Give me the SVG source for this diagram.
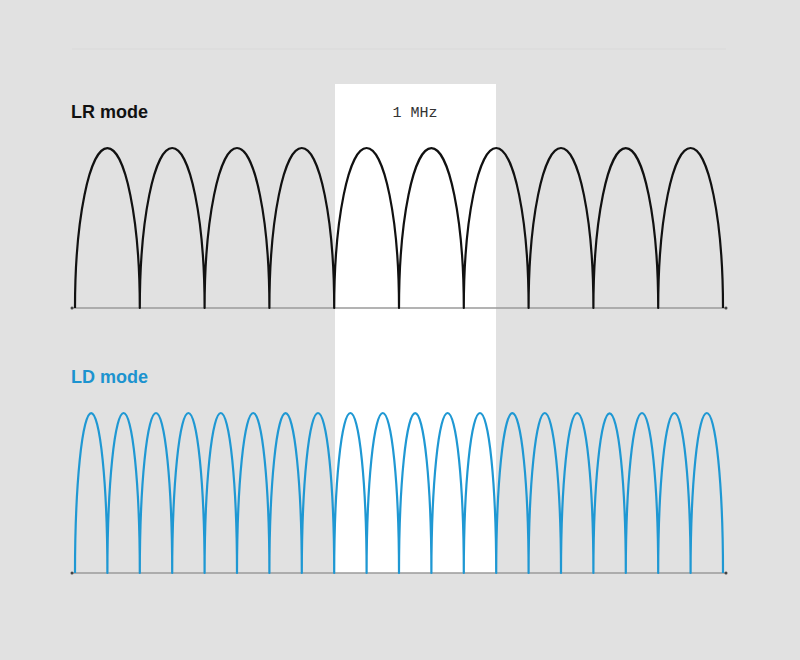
<svg xmlns="http://www.w3.org/2000/svg" width="800" height="660" viewBox="0 0 800 660">
  <style>
    .label { font-family: "Liberation Sans", Arial, sans-serif; font-weight: bold; font-size: 18px; }
    .mono { font-family: "Liberation Mono", "Courier New", monospace; font-size: 15px; fill: #333; }
    .lr { fill: none; stroke: #111; stroke-width: 2.2; stroke-linejoin: round; }
    .ld { fill: none; stroke: #1f98d3; stroke-width: 2.2; stroke-linejoin: round; }
    .axis { stroke: #9a9a9a; stroke-width: 1.6; }
    .dot { fill: #444; }
  </style>
  <rect x="0" y="0" width="800" height="660" fill="#e1e1e1"/>
  <line x1="72" y1="49" x2="726" y2="49" stroke="#d9d9d9" stroke-width="1"/>

  <g id="band">
    <rect x="335" y="84" width="161" height="489" fill="#ffffff"/>
    <text class="mono" x="415" y="117" text-anchor="middle">1 MHz</text>
  </g>

  <g id="lr-label">
    <text class="label" x="71" y="118" fill="#111">LR mode</text>
  </g>
  <g id="ld-label">
    <text class="label" x="71" y="383" fill="#1c93cf">LD mode</text>
  </g>

  <g id="connectors">
    <g id="lr-axis">
      <line class="axis" x1="72" y1="308" x2="726" y2="308"/>
      <circle class="dot" cx="72" cy="308" r="1.5"/>
      <circle class="dot" cx="726" cy="308" r="1.5"/>
    </g>
    <g id="ld-axis">
      <line class="axis" x1="72" y1="573" x2="726" y2="573"/>
      <circle class="dot" cx="72" cy="573" r="1.5"/>
      <circle class="dot" cx="726" cy="573" r="1.5"/>
    </g>
  </g>

  <g id="lr-channels">
    <path class="lr" d="M75 308 A32.4 160 0 0 1 139.8 308 A32.4 160 0 0 1 204.6 308 A32.4 160 0 0 1 269.4 308 A32.4 160 0 0 1 334.2 308 A32.4 160 0 0 1 399 308 A32.4 160 0 0 1 463.8 308 A32.4 160 0 0 1 528.6 308 A32.4 160 0 0 1 593.4 308 A32.4 160 0 0 1 658.2 308 A32.4 160 0 0 1 723 308"/>
  </g>

  <g id="ld-channels">
    <path class="ld" d="M75 573 A16.2 160 0 0 1 107.4 573 A16.2 160 0 0 1 139.8 573 A16.2 160 0 0 1 172.2 573 A16.2 160 0 0 1 204.6 573 A16.2 160 0 0 1 237 573 A16.2 160 0 0 1 269.4 573 A16.2 160 0 0 1 301.8 573 A16.2 160 0 0 1 334.2 573 A16.2 160 0 0 1 366.6 573 A16.2 160 0 0 1 399 573 A16.2 160 0 0 1 431.4 573 A16.2 160 0 0 1 463.8 573 A16.2 160 0 0 1 496.2 573 A16.2 160 0 0 1 528.6 573 A16.2 160 0 0 1 561 573 A16.2 160 0 0 1 593.4 573 A16.2 160 0 0 1 625.8 573 A16.2 160 0 0 1 658.2 573 A16.2 160 0 0 1 690.6 573 A16.2 160 0 0 1 723 573"/>
  </g>
</svg>
